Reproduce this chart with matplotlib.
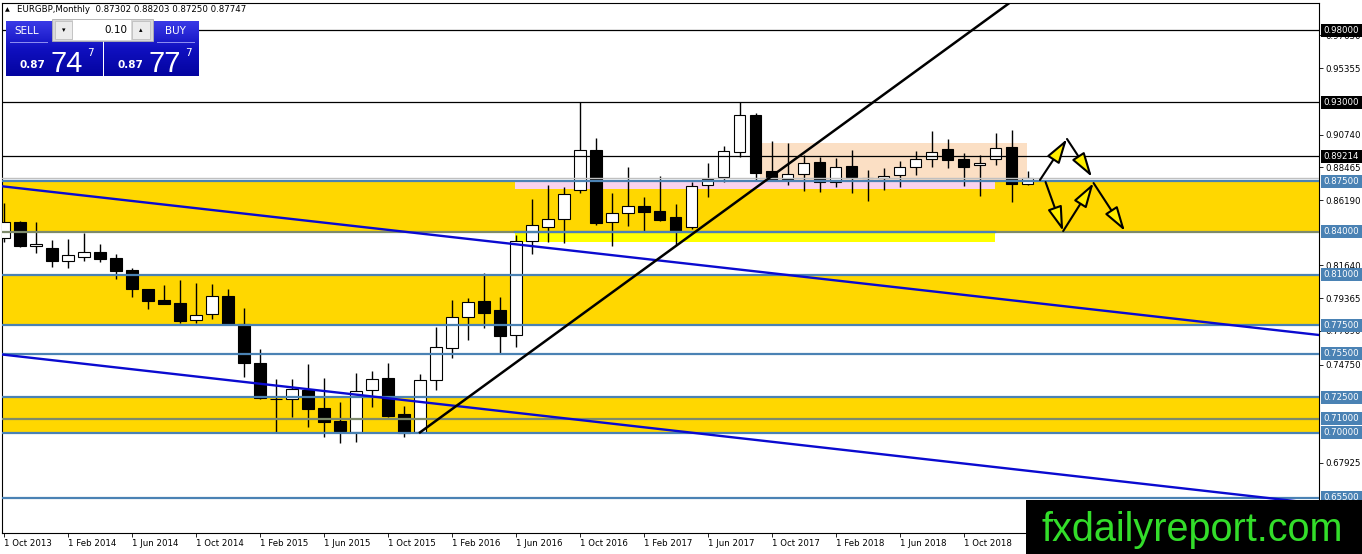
import numpy as np
import matplotlib
matplotlib.use("Agg")
import matplotlib.pyplot as plt
import matplotlib.transforms as mtransforms
from matplotlib.patches import Rectangle, FancyArrowPatch
from matplotlib.colors import LinearSegmentedColormap

# monthly EURGBP candles, Oct 2013 .. Feb 2019
opens = [0.8355, 0.8466, 0.8296, 0.8283, 0.8197, 0.8225, 0.8260, 0.8214, 0.8133, 0.8000,
         0.7924, 0.7901, 0.7785, 0.7824, 0.7952, 0.7755, 0.7488, 0.7236, 0.7234, 0.7298,
         0.7171, 0.7083, 0.7004, 0.7298, 0.7380, 0.7130, 0.7004, 0.7368, 0.7589, 0.7804,
         0.7917, 0.7854, 0.7681, 0.8336, 0.8433, 0.8485, 0.8688, 0.8966, 0.8464, 0.8526,
         0.8577, 0.8542, 0.8503, 0.8429, 0.8723, 0.8777, 0.8955, 0.9210, 0.8820, 0.8763,
         0.8798, 0.8881, 0.8746, 0.8855, 0.8770, 0.8770, 0.8793, 0.8846, 0.8904, 0.8973,
         0.8902, 0.8862, 0.8902, 0.8985, 0.87302]
highs = [0.8598, 0.8475, 0.8466, 0.8341, 0.8348, 0.8392, 0.8313, 0.8244, 0.8144, 0.8004,
         0.8028, 0.8063, 0.8040, 0.8035, 0.8000, 0.7870, 0.7583, 0.7373, 0.7373, 0.7479,
         0.7380, 0.7217, 0.7415, 0.7430, 0.7484, 0.7187, 0.7410, 0.7738, 0.7924, 0.7936,
         0.8110, 0.7943, 0.8376, 0.8626, 0.8723, 0.8711, 0.9298, 0.9048, 0.8665, 0.8846,
         0.8638, 0.8786, 0.8591, 0.8746, 0.8874, 0.8994, 0.9302, 0.9221, 0.9029, 0.9017,
         0.8932, 0.8920, 0.8909, 0.8966, 0.8827, 0.8839, 0.8892, 0.8961, 0.9098, 0.9041,
         0.8943, 0.8932, 0.9087, 0.9105, 0.88203]
lows = [0.8327, 0.8292, 0.8251, 0.8155, 0.8148, 0.8197, 0.8190, 0.8070, 0.7947, 0.7861,
        0.7895, 0.7762, 0.7762, 0.7790, 0.7750, 0.7391, 0.7234, 0.6997, 0.7109, 0.7043,
        0.6974, 0.6928, 0.6939, 0.7182, 0.7113, 0.6970, 0.7000, 0.7298, 0.7519, 0.7646,
        0.7727, 0.7553, 0.7599, 0.8242, 0.8329, 0.8322, 0.8670, 0.8445, 0.8299, 0.8438,
        0.8406, 0.8475, 0.8306, 0.8415, 0.8642, 0.8746, 0.8920, 0.8753, 0.8753, 0.8723,
        0.8684, 0.8677, 0.8707, 0.8665, 0.8614, 0.8688, 0.8711, 0.8793, 0.8850, 0.8839,
        0.8716, 0.8647, 0.8862, 0.8607, 0.87250]
closes = [0.8466, 0.8300, 0.8313, 0.8197, 0.8237, 0.8258, 0.8209, 0.8128, 0.7998, 0.7919,
          0.7898, 0.7780, 0.7820, 0.7952, 0.7755, 0.7484, 0.7245, 0.7239, 0.7303, 0.7169,
          0.7078, 0.7016, 0.7294, 0.7377, 0.7118, 0.7002, 0.7368, 0.7595, 0.7804, 0.7912,
          0.7831, 0.7676, 0.8336, 0.8445, 0.8487, 0.8659, 0.8966, 0.8461, 0.8526, 0.8577,
          0.8538, 0.8480, 0.8406, 0.8718, 0.8763, 0.8959, 0.9210, 0.8809, 0.8758, 0.8798,
          0.8878, 0.8746, 0.8850, 0.8781, 0.8773, 0.8788, 0.8846, 0.8902, 0.8950, 0.8897,
          0.8850, 0.8878, 0.8978, 0.8728, 0.87747]

date_labels = ["1 Oct 2013", "1 Feb 2014", "1 Jun 2014", "1 Oct 2014", "1 Feb 2015",
               "1 Jun 2015", "1 Oct 2015", "1 Feb 2016", "1 Jun 2016", "1 Oct 2016",
               "1 Feb 2017", "1 Jun 2017", "1 Oct 2017", "1 Feb 2018", "1 Jun 2018",
               "1 Oct 2018"]

price_ticks = [0.97630, 0.95355, 0.90740, 0.88465, 0.86190, 0.81640, 0.79365, 0.77090,
               0.74750, 0.67925]

black_levels = [0.98, 0.93, 0.89214]
blue_levels = [0.875, 0.84, 0.81, 0.775, 0.755, 0.725, 0.71, 0.70, 0.655]
yellow_zones = [(0.84, 0.875), (0.775, 0.81), (0.70, 0.725)]
bid = 0.87747

# rectangles: (bar from, bar to, price low, price high)
pink_box = (31.94, 61.94, 0.8693, 0.875)
lemon_box = (31.94, 61.94, 0.8329, 0.84)
peach_box = (47.25, 63.94, 0.875, 0.9013)

chan_x = [-0.25, 82.19]
chan_upper = [0.8716, 0.7681]
chan_lower = [0.7547, 0.6508]
trend_x = [26, 64]
trend_y = [0.7004, 1.0082]

zig_up = [(64.75, 0.8758), (66.44, 0.9043), (68.0, 0.8779)]
zig_down = [(65.1, 0.8744), (66.2, 0.8403), (68.1, 0.8737), (70.06, 0.8403)]

W, H = 1362, 554
STEEL = "#4a82b4"
fig = plt.figure(figsize=(W / 100, H / 100), dpi=100)
fig.patch.set_facecolor("white")
ax = fig.add_axes([2 / W, 21 / H, 1317 / W, 530 / H])
X0, X1 = -0.125, 82.19
Y0, Y1 = 0.6305, 0.9988
ax.set_xlim(X0, X1)
ax.set_ylim(Y0, Y1)
ppx = (Y1 - Y0) / 530.0

for lo, hi in yellow_zones:
    ax.axhspan(lo, hi, color="#ffd700", lw=0, zorder=0.5)
for (a, b, lo, hi), c in [(pink_box, "#f9d3ee"), (lemon_box, "#ffff00"), (peach_box, "#fbdfc4")]:
    ax.add_patch(Rectangle((a, lo), b - a, hi - lo, fc=c, ec="none", zorder=0.8))

o = np.array(opens); h = np.array(highs); l = np.array(lows); c = np.array(closes)
idx = np.arange(len(o))
up = c >= o
ax.vlines(idx, l, h, color="black", lw=1, zorder=2)
ax.bar(idx, np.maximum(np.abs(c - o), 0.0003), bottom=np.minimum(o, c), width=0.69,
       color=np.where(up, "white", "black"), edgecolor="black", lw=0.8, zorder=3)

for lvl in black_levels:
    ax.axhline(lvl, color="black", lw=0.9, zorder=4)
ax.axhline(bid, color="#c0c0c0", lw=1, zorder=3.9)
for lvl in blue_levels:
    col = "#7d8a6b" if lvl in (0.84, 0.71) else STEEL
    ax.axhline(lvl, color=col, lw=1.6, zorder=4)
ax.plot([lemon_box[0], lemon_box[1]], [0.84, 0.84], color=STEEL, lw=1.6, zorder=4.1)

ax.plot(chan_x, chan_upper, color="#0a0ad0", lw=1.7, zorder=4.5)
ax.plot(chan_x, chan_lower, color="#0a0ad0", lw=1.7, zorder=4.5)
ax.plot(trend_x, trend_y, color="black", lw=1.8, zorder=4.5)

for path in (zig_up, zig_down):
    for p, q in zip(path[:-1], path[1:]):
        ax.add_patch(FancyArrowPatch(p, q, arrowstyle="-|>,head_length=1.5,head_width=0.45",
                                     mutation_scale=10, lw=1.5, ec="black", fc="#ffee00",
                                     shrinkA=0, shrinkB=0, zorder=6))

# axes and ticks
for s in ax.spines.values():
    s.set_color("black")
    s.set_linewidth(0.8)
ax.set_xticks(np.arange(len(date_labels)) * 4)
ax.set_xticklabels(date_labels, ha="left", fontsize=6.2)
ax.tick_params(axis="x", length=3, pad=1.5, width=0.6)
ax.yaxis.tick_right()
ax.set_yticks(price_ticks)
ax.set_yticklabels(["%.5f" % v for v in price_ticks], fontsize=6.2)
ax.tick_params(axis="y", length=3, pad=1.5, width=0.6)

blend = mtransforms.blended_transform_factory(ax.transAxes, ax.transData)
for lvl in black_levels + blue_levels:
    fc = "black" if lvl in black_levels else STEEL
    ax.add_patch(Rectangle((1.0 + 1.5 / 1317, lvl - 6.5 * ppx), 42 / 1317, 13 * ppx,
                           transform=blend, fc=fc, ec="none", clip_on=False, zorder=10))
    ax.text(1.0 + 4 / 1317, lvl, "%.5f" % lvl, transform=blend, color="white",
            fontsize=6.2, va="center", ha="left", clip_on=False, zorder=11)


def frect(x0, y0, x1, y1):
    return [x0 / W, 1 - y1 / H, (x1 - x0) / W, (y1 - y0) / H]


def ftext(x, y, s, **kw):
    fig.text(x / W, 1 - y / H, s, **kw)


def fbox(x0, y0, x1, y1, **kw):
    fig.add_artist(Rectangle((x0 / W, 1 - y1 / H), (x1 - x0) / W, (y1 - y0) / H,
                             transform=fig.transFigure, **kw))


# header text
ftext(5, 10, "\u25b2", fontsize=4.5, va="center", color="black")
ftext(17, 10, "EURGBP,Monthly  0.87302 0.88203 0.87250 0.87747", fontsize=6.2,
      va="center", color="black")

# one-click trading panel
cmap = LinearSegmentedColormap.from_list("panel", ["#3a3ae6", "#1010c0", "#0404a0"])
grad = np.linspace(0, 1, 64).reshape(-1, 1)
for x0, x1 in [(6, 102), (104, 199)]:
    g = fig.add_axes(frect(x0, 21, x1, 76))
    g.imshow(grad, aspect="auto", cmap=cmap)
    g.set_axis_off()
    g.set_zorder(20)
fbox(52, 19, 153, 41, fc="#d8d8d8", ec="#b0b0b0", lw=0.6, zorder=21)
fbox(73, 20, 131, 40, fc="white", ec="none", zorder=22)
fbox(55, 21, 72, 39, fc="#ececec", ec="#b8b8b8", lw=0.5, zorder=22)
fbox(132, 21, 150, 39, fc="#ececec", ec="#b8b8b8", lw=0.5, zorder=22)
ftext(63.5, 30, "\u25be", fontsize=5, ha="center", va="center", zorder=23)
ftext(141, 30, "\u25b4", fontsize=5, ha="center", va="center", zorder=23)
ftext(127, 30, "0.10", fontsize=7.5, ha="right", va="center", zorder=23)
ftext(27, 31, "SELL", fontsize=7.5, ha="center", va="center", color="white", zorder=23)
ftext(175, 31, "BUY", fontsize=7.5, ha="center", va="center", color="white", zorder=23)
fbox(10, 42, 48, 43, fc="#8c8cf0", ec="none", zorder=23)
fbox(157, 42, 195, 43, fc="#8c8cf0", ec="none", zorder=23)
for bx, big in [(0, "74"), (98, "77")]:
    ftext(20 + bx, 68, "0.87", fontsize=7.5, fontweight="bold", color="white",
          va="baseline", zorder=23)
    ftext(50 + bx, 72, big, fontsize=21, family="Liberation Sans", color="white",
          va="baseline", zorder=23)
    ftext(87 + bx, 56, "7", fontsize=7.5, color="white", va="baseline", zorder=23)

# watermark
fbox(1026, 500, 1362, 554, fc="black", ec="none", zorder=30)
ftext(1041, 541, "fxdailyreport.com", fontsize=28.5, family="Liberation Sans",
      color="#33dd2a", va="baseline", zorder=31)

fig.savefig("out.png", dpi=100)
